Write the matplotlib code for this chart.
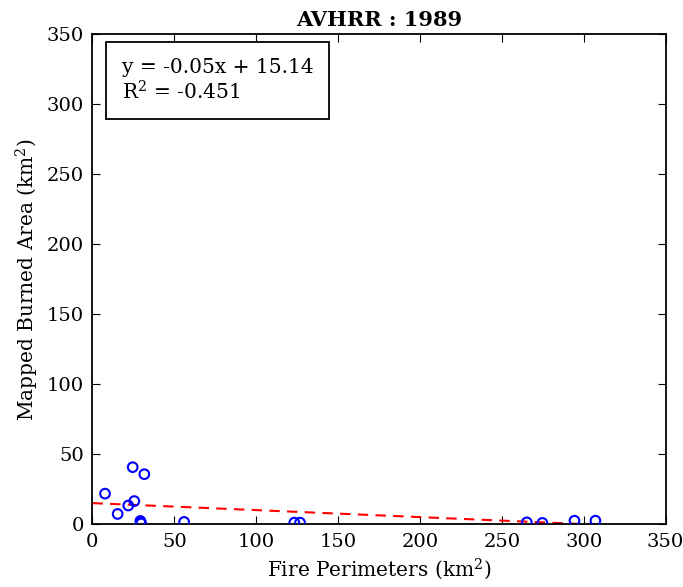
import matplotlib
matplotlib.use("Agg")
import matplotlib.pyplot as plt
import numpy as np

plt.rcParams["font.family"] = ["DejaVu Serif"]
plt.rcParams["mathtext.fontset"] = "dejavuserif"

# fire perimeter area vs mapped burned area (km^2)
perim = [7.7, 15.4, 21.9, 25.6, 24.6, 31.7, 29.3, 29.5, 29.8, 56.0,
         123.3, 126.8, 265.3, 274.8, 294.4, 307.2]
burned = [21.9, 7.4, 13.4, 16.6, 40.8, 35.8, 2.4, 1.2, 0.6, 1.7,
          1.2, 1.2, 1.4, 1.0, 2.6, 2.6]
slope = -0.05
intercept = 15.14
r2 = -0.451
title = "AVHRR : 1989"

fig = plt.figure(figsize=(6.83, 5.87), dpi=100)
ax = fig.add_axes([0.1353, 0.1068, 0.8391, 0.8348])

ax.scatter(perim, burned, s=48, facecolors="none", edgecolors="blue", linewidths=1.5, zorder=3)
xfit = np.array([0, 350])
ax.plot(xfit, slope * xfit + intercept, "r--", lw=1.5, dashes=(5, 3.5))

ax.set_xlim(0, 350)
ax.set_ylim(0, 350)
ax.set_xticks(np.arange(0, 351, 50))
ax.set_yticks(np.arange(0, 351, 50))
ax.tick_params(direction="in", top=True, right=True, labelsize=14, length=6, pad=6)
for s in ax.spines.values():
    s.set_linewidth(1.3)

ax.set_xlabel("Fire Perimeters (km$^2$)", fontsize=14.5)
ax.set_ylabel("Mapped Burned Area (km$^2$)", fontsize=14.5)
ax.set_title(title, fontsize=15, fontweight="bold")

ax.text(0.051, 0.905, f"y = {slope:.2f}x + {intercept:.2f}\nR$^2$ = {r2:.3f}",
        transform=ax.transAxes, fontsize=14.5, va="center", ha="left", linespacing=1.15,
        bbox=dict(boxstyle="square,pad=0.8", fc="white", ec="black", lw=1.3))

fig.savefig("out.png", dpi=100)
